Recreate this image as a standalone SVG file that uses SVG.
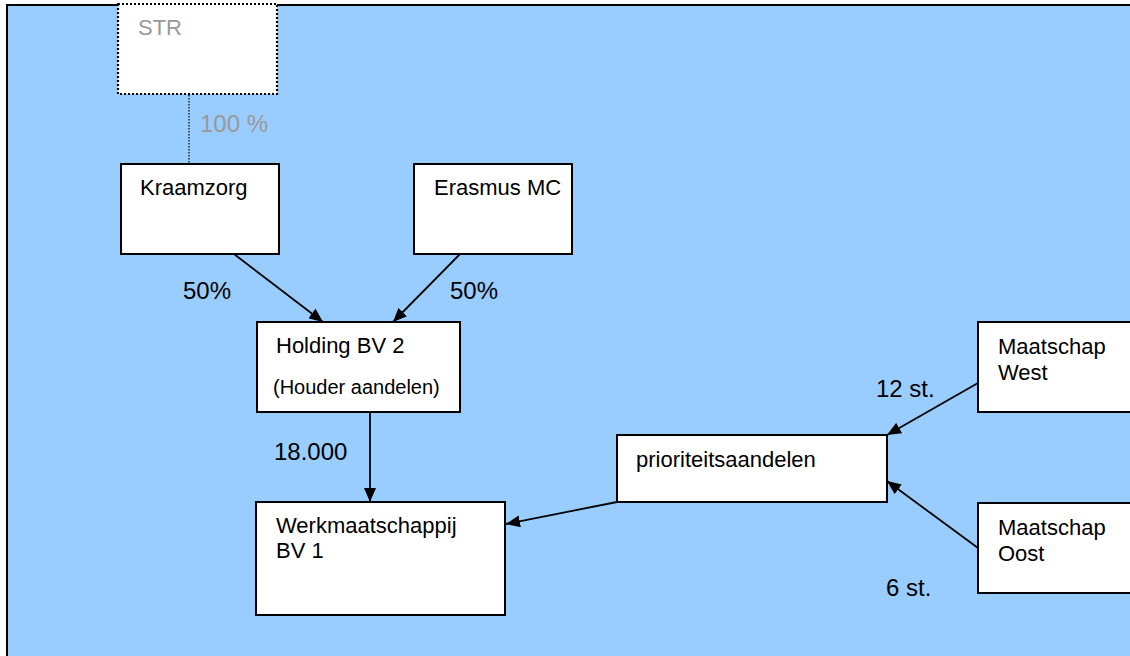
<svg xmlns="http://www.w3.org/2000/svg" width="1130" height="656" viewBox="0 0 1130 656">
<defs>
<style>
.box{fill:#fff;stroke:#000;stroke-width:2}
.t{font-family:"Liberation Sans",Arial,sans-serif;font-size:22px;fill:#000}
.s{font-family:"Liberation Sans",Arial,sans-serif;font-size:20px;fill:#000}
.l{font-family:"Liberation Sans",Arial,sans-serif;font-size:24px;fill:#000}
.g{fill:#999}
.c{stroke:#000;stroke-width:1.8;fill:none;marker-end:url(#ah)}
</style>
<marker id="ah" viewBox="0 0 14 12" refX="14" refY="6" markerWidth="14" markerHeight="12" markerUnits="userSpaceOnUse" orient="auto">
<path d="M0,0 L14,6 L0,12 Z" fill="#000"/>
</marker>
</defs>
<rect x="0" y="0" width="1130" height="656" fill="#fff"/>
<rect id="frame" x="7" y="5" width="1135" height="660" fill="#99ccff" stroke="#000" stroke-width="2"/>
<g id="connectors">
<line x1="189" y1="95" x2="189" y2="164" stroke="#000" stroke-width="1.2" stroke-dasharray="1.5 1.5"/>
<line class="c" x1="234" y1="254" x2="323" y2="322"/>
<line class="c" x1="460" y1="254" x2="393" y2="322"/>
<line class="c" x1="370" y1="412" x2="370" y2="502"/>
<line class="c" x1="617" y1="502" x2="506" y2="524"/>
<line class="c" x1="978" y1="383" x2="887" y2="435"/>
<line class="c" x1="978" y1="548" x2="887" y2="481"/>
<text class="l g" x="200" y="132">100 %</text>
<text class="l" x="183" y="299">50%</text>
<text class="l" x="450" y="299">50%</text>
<text class="l" x="274" y="460">18.000</text>
<text class="l" x="876" y="397">12 st.</text>
<text class="l" x="886" y="596">6 st.</text>
</g>
<g id="str">
<rect x="118" y="4" width="159" height="90" fill="#fff" stroke="#000" stroke-width="2.2" stroke-dasharray="2 2"/>
<text class="t g" x="138" y="35">STR</text>
</g>
<g id="kraamzorg">
<rect class="box" x="121" y="164" width="158" height="90"/>
<text class="t" x="140" y="195">Kraamzorg</text>
</g>
<g id="erasmus">
<rect class="box" x="414" y="164" width="158" height="90"/>
<text class="t" x="434" y="195">Erasmus MC</text>
</g>
<g id="holding">
<rect class="box" x="257" y="322" width="203" height="90"/>
<text class="t" x="276" y="353">Holding BV 2</text>
<text class="s" x="273" y="394">(Houder aandelen)</text>
</g>
<g id="werk">
<rect class="box" x="256" y="502" width="249" height="113"/>
<text class="t" x="276" y="533">Werkmaatschappij</text>
<text class="t" x="276" y="558">BV 1</text>
</g>
<g id="prioriteit">
<rect class="box" x="617" y="435" width="270" height="67"/>
<text class="t" x="636" y="467">prioriteitsaandelen</text>
</g>
<g id="west">
<rect class="box" x="978" y="322" width="170" height="90"/>
<text class="t" x="998" y="354">Maatschap</text>
<text class="t" x="998" y="380">West</text>
</g>
<g id="oost">
<rect class="box" x="978" y="503" width="170" height="90"/>
<text class="t" x="998" y="535">Maatschap</text>
<text class="t" x="998" y="561">Oost</text>
</g>
</svg>
